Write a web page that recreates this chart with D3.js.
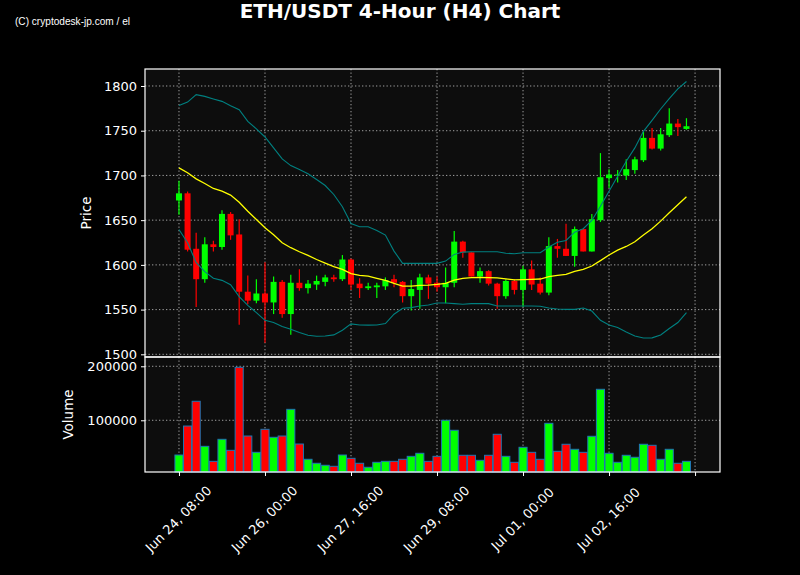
<!DOCTYPE html>
<html><head><meta charset="utf-8">
<script src="https://cdn.jsdelivr.net/npm/d3@7"></script>
<style>body{margin:0;background:#000}svg{display:block}</style>
</head><body><svg id="c" width="800" height="575"></svg>
<script>
// ---- data (4-hour candles, first = Jun 24 08:00) ----
const openP  = [1672,1680,1618,1584,1623,1620,1657,1634,1570,1560,1568,1558,1581,1545,1580,1574,1578,1581,1586,1584,
                1606,1579,1574,1575,1576,1584,1581,1565,1572,1586,1580,1575,1580,1626,1614,1587,1593,1579,1565,1582,
                1572,1595,1579,1569,1621,1618,1610,1640,1615,1650,1697,1700,1700,1706,1717,1742,1730,1745,1758,1752];
const highP  = [1694,1682,1636,1631,1627,1661,1659,1651,1588,1584,1603,1587,1583,1589,1595,1583,1588,1589,1589,1611,
                1607,1585,1580,1580,1586,1589,1582,1583,1590,1589,1587,1597,1638,1627,1614,1597,1594,1580,1584,1584,
                1599,1605,1586,1631,1629,1646,1643,1640,1657,1725,1707,1706,1718,1721,1749,1753,1753,1775,1763,1764];
const lowP   = [1656,1615,1553,1580,1615,1617,1628,1533,1556,1557,1513,1545,1541,1522,1571,1568,1572,1576,1581,1582,
                1572,1563,1572,1563,1572,1575,1558,1549,1551,1562,1570,1557,1575,1608,1587,1580,1577,1551,1562,1567,
                1553,1572,1567,1566,1608,1610,1598,1615,1615,1648,1686,1692,1695,1702,1715,1729,1728,1743,1744,1751];
const closeP = [1680,1617,1584,1623,1620,1657,1633,1570,1560,1568,1558,1581,1545,1580,1574,1579,1582,1586,1584,1606,
                1578,1574,1576,1577,1583,1580,1565,1573,1586,1579,1575,1580,1626,1614,1587,1593,1579,1565,1582,1572,
                1595,1578,1569,1621,1618,1610,1640,1615,1651,1698,1701,1701,1707,1718,1742,1730,1746,1758,1754,1755];
const volume = [35700,89400,135200,51800,24000,64800,44400,198100,70900,40700,
                83300,68500,70900,120300,56100,27800,20400,16700,14800,35700,
                29600,20400,13000,22200,24000,24000,27800,33300,38900,24000,
                33300,100000,81500,35200,35200,25900,35200,74100,33300,22200,
                50000,40700,27800,94400,42600,55600,46300,40700,70400,157400,
                38900,22200,35200,31500,55600,53700,27800,46300,20400,24000];
const sma20  = [1708.5,1703,1696.2,1691,1685.4,1682.4,1678,1670,1660,1650.8,
                1641.5,1633.7,1624.8,1619.2,1614.7,1610.6,1606,1602,1598,1595,
                1590.2,1588.3,1587.5,1585,1582.7,1579.3,1576.3,1576.3,1577,1577.4,
                1578.2,1579.3,1583,1585,1585.7,1586,1585.7,1585.4,1584.4,1583.3,
                1583.5,1583.8,1584.2,1586.8,1588.3,1589.4,1592.7,1595,1598.7,1604.7,
                1611,1616.5,1620.6,1625.9,1633.3,1640.4,1648.9,1658.3,1667.2,1676.1];
const bbUpper= [1778.3,1782,1790.3,1788.4,1785.5,1782.8,1778,1773.5,1760.5,1752,
                1743,1730.8,1718.5,1711,1706.6,1701.8,1695.4,1688.7,1678.7,1665,
                1646.3,1642.6,1642.6,1638.5,1633.3,1615.4,1601.7,1601.7,1601.7,1601.7,
                1601.7,1604.2,1611.7,1614.3,1614.7,1614.7,1614.7,1614.7,1613,1612.5,
                1613.6,1613.6,1613.6,1619.9,1625.4,1627.3,1636.6,1640.4,1649.7,1665.6,
                1682.4,1699,1715.8,1730.8,1749.3,1761.6,1774.3,1785.8,1796.7,1805];
const bbLower= [1639.6,1624.8,1602.5,1592.4,1585,1582.7,1577.9,1564.5,1554.8,1546.6,
                1538,1535.5,1531,1528,1524.3,1521.3,1520.2,1520.4,1521.7,1527,
                1534,1532.8,1532.6,1532.8,1534.4,1544.8,1551.5,1552.2,1554,1555.1,
                1557.4,1557.4,1556.7,1556,1556.7,1556.7,1556.7,1554,1554,1554,
                1554,1554,1553.8,1551.8,1550.7,1550.3,1550.3,1551.8,1548.4,1538,
                1532.8,1529.9,1525,1520.5,1518.3,1518.4,1521.7,1528.8,1535.5,1546.6];
const tickIndex  = [0,10,20,30,40,50,60];
const tickLabels = ["Jun 24, 08:00","Jun 26, 00:00","Jun 27, 16:00","Jun 29, 08:00","Jul 01, 00:00","Jul 02, 16:00",""];
const priceTicks = [1500,1550,1600,1650,1700,1750,1800];
const volumeTicks = [100000,200000];

// ---- layout ----
const L=145,R=720,pT=69,pB=357,vT=357,vB=472;
const svg=d3.select("#c");
const font="DejaVu Sans, sans-serif";
svg.append("rect").attr("width",800).attr("height",575).attr("fill","#000");

const x=d3.scaleLinear().domain([-3.95,62.9]).range([L,R]);
const yP=d3.scaleLinear().domain([1497,1819]).range([pB,pT]);
const yV=d3.scaleLinear().domain([4260,217200]).range([vB,vT]);
const idx=d3.range(openP.length);
const up=i=>closeP[i]>=openP[i];
const col=i=>up(i)?"#00ff00":"#ff0000";

// panels
[[pT,pB],[vT,vB]].forEach(([t,b])=>{
  svg.append("rect").attr("x",L).attr("y",t).attr("width",R-L).attr("height",b-t).attr("fill","#0d0d0d");
});

// grids
const gridStyle=s=>s.attr("stroke","#a0a0a0").attr("stroke-width",1).attr("stroke-dasharray","1.3,2.2");
const grid=svg.append("g");
priceTicks.forEach(v=>gridStyle(grid.append("line").attr("x1",L).attr("x2",R).attr("y1",yP(v)).attr("y2",yP(v))));
volumeTicks.forEach(v=>gridStyle(grid.append("line").attr("x1",L).attr("x2",R).attr("y1",yV(v)).attr("y2",yV(v))));
tickIndex.forEach(t=>{
  gridStyle(grid.append("line").attr("x1",x(t)).attr("x2",x(t)).attr("y1",pT).attr("y2",pB));
  gridStyle(grid.append("line").attr("x1",x(t)).attr("x2",x(t)).attr("y1",vT).attr("y2",vB));
});

// volume bars
svg.append("g").selectAll("rect").data(idx).join("rect")
  .attr("x",i=>x(i-0.47)).attr("width",x(0.47)-x(-0.47))
  .attr("y",i=>yV(volume[i])).attr("height",i=>vB-yV(volume[i]))
  .attr("fill",col).attr("stroke","#1f77b4").attr("stroke-width",1);

// candles
const cg=svg.append("g");
cg.selectAll("line").data(idx).join("line")
  .attr("x1",i=>x(i)).attr("x2",i=>x(i))
  .attr("y1",i=>yP(highP[i])).attr("y2",i=>yP(lowP[i]))
  .attr("stroke",col).attr("stroke-width",1.2);
cg.selectAll("rect").data(idx).join("rect")
  .attr("x",i=>x(i-0.35)).attr("width",x(0.35)-x(-0.35))
  .attr("y",i=>yP(Math.max(openP[i],closeP[i])))
  .attr("height",i=>Math.max(1,Math.abs(yP(openP[i])-yP(closeP[i]))))
  .attr("fill",col);

// lines
const line=arr=>d3.line().x(i=>x(i)).y(i=>yP(arr[i]))(idx);
svg.append("path").attr("d",line(bbUpper)).attr("fill","none").attr("stroke","#008080").attr("stroke-width",1.1);
svg.append("path").attr("d",line(bbLower)).attr("fill","none").attr("stroke","#008080").attr("stroke-width",1.1);
svg.append("path").attr("d",line(sma20)).attr("fill","none").attr("stroke","#ffff00").attr("stroke-width",1.3);

// spines
[[pT,pB],[vT,vB]].forEach(([t,b])=>{
  svg.append("rect").attr("x",L).attr("y",t).attr("width",R-L).attr("height",b-t)
    .attr("fill","none").attr("stroke","#fff").attr("stroke-width",1.2);
});

// axes
function styleAxis(g){
  g.select(".domain").remove();
  g.selectAll(".tick line").attr("stroke","#fff").attr("stroke-width",1);
  g.selectAll(".tick text").attr("fill","#fff").attr("font-family",font).attr("font-size",13);
}
svg.append("g").attr("transform",`translate(${L},0)`)
  .call(d3.axisLeft(yP).tickValues(priceTicks).tickSize(4).tickPadding(4).tickFormat(d3.format("d")))
  .call(styleAxis);
svg.append("g").attr("transform",`translate(${L},0)`)
  .call(d3.axisLeft(yV).tickValues(volumeTicks).tickSize(4).tickPadding(4).tickFormat(d3.format("d")))
  .call(styleAxis);
const xa=svg.append("g").attr("transform",`translate(0,${vB})`)
  .call(d3.axisBottom(x).tickValues(tickIndex).tickSize(4).tickFormat((d,k)=>tickLabels[k]))
  .call(styleAxis);
xa.selectAll(".tick text")
  .attr("text-anchor","middle").attr("dominant-baseline","central")
  .attr("y",0).attr("dy",null)
  .attr("transform","translate(-1,47) rotate(-45)");

// axis labels
svg.append("text").attr("transform",`translate(91,${(pT+pB)/2}) rotate(-90)`)
  .attr("text-anchor","middle").attr("fill","#fff").attr("font-family",font).attr("font-size",13.5).text("Price");
svg.append("text").attr("transform",`translate(73,${(vT+vB)/2}) rotate(-90)`)
  .attr("text-anchor","middle").attr("fill","#fff").attr("font-family",font).attr("font-size",13.5).text("Volume");

// title & credit
svg.append("text").attr("x",400).attr("y",17.5).attr("text-anchor","middle").attr("fill","#fff")
  .attr("font-family",font).attr("font-weight","bold").attr("font-size",20).text("ETH/USDT 4-Hour (H4) Chart");
svg.append("text").attr("x",15).attr("y",25).attr("fill","#fff")
  .attr("font-family","Liberation Sans Narrow, Liberation Sans, sans-serif").attr("font-size",10.5)
  .attr("textLength",115).attr("lengthAdjust","spacingAndGlyphs").text("(C) cryptodesk-jp.com / el");
</script></body></html>
